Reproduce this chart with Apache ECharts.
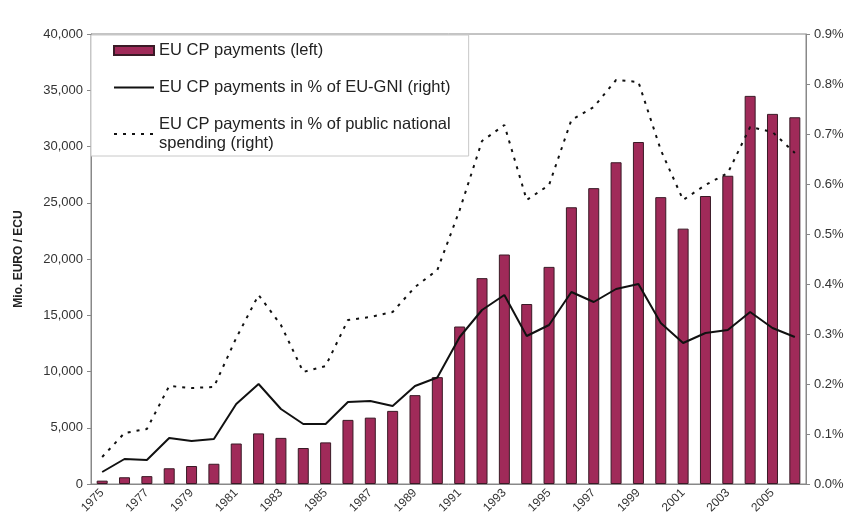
<!DOCTYPE html>
<html>
<head>
<meta charset="utf-8">
<script src="https://cdn.jsdelivr.net/npm/echarts@6/dist/echarts.min.js"></script>
<style>
  html, body { margin: 0; padding: 0; background: #fff; }
  #chart { width: 850px; height: 531px; }
</style>
</head>
<body>
<div id="chart"></div>
<script>
// years on the x axis
const years = ['1975', '1976', '1977', '1978', '1979', '1980', '1981', '1982', '1983', '1984',
  '1985', '1986', '1987', '1988', '1989', '1990', '1991', '1992', '1993', '1994', '1995',
  '1996', '1997', '1998', '1999', '2000', '2001', '2002', '2003', '2004', '2005', '2006']

// EU CP payments, Mio. EURO / ECU (left axis)
const payments = [300, 600, 700, 1400, 1600, 1800, 3600, 4500, 4100, 3200,
  3700, 5700, 5900, 6500, 7900, 9500, 14000, 18300, 20400, 16000, 19300,
  24600, 26300, 28600, 30400, 25500, 22700, 25600, 27400, 34500, 32900, 32600]

// in % of EU-GNI (right axis)
const pctGni = [0.024, 0.05, 0.048, 0.092, 0.086, 0.09, 0.16, 0.2, 0.15, 0.12,
  0.12, 0.164, 0.166, 0.156, 0.196, 0.213, 0.294, 0.348, 0.378, 0.296, 0.318,
  0.384, 0.364, 0.39, 0.4, 0.322, 0.282, 0.302, 0.308, 0.344, 0.312, 0.294]

// in % of public national spending (right axis)
const pctSpending = [0.054, 0.102, 0.11, 0.196, 0.192, 0.194, 0.292, 0.378, 0.318, 0.224,
  0.236, 0.328, 0.334, 0.344, 0.394, 0.428, 0.548, 0.686, 0.718, 0.568, 0.598,
  0.728, 0.754, 0.808, 0.804, 0.668, 0.568, 0.598, 0.622, 0.714, 0.704, 0.662]

const chart = echarts.init(document.getElementById('chart'))
const font = 'Liberation Sans, Arial, sans-serif'

const option = {
  backgroundColor: '#fff',
  animation: false,
  textStyle: { fontFamily: font },
  grid: {
    left: 91, right: 44, top: 34, bottom: 47,
    show: true, borderColor: '#888', borderWidth: 1
  },
  legend: {
    orient: 'vertical',
    left: 91, top: 35,
    padding: [6, 18, 3, 22],
    itemGap: 18,
    itemWidth: 40, itemHeight: 9,
    backgroundColor: '#fff',
    borderColor: '#c8c8c8', borderWidth: 1,
    textStyle: { fontSize: 16.5, color: '#222', fontFamily: font, lineHeight: 19 },
    data: [
      { name: 'EU CP payments (left)', icon: 'rect' },
      { name: 'EU CP payments in % of EU-GNI (right)', itemStyle: { opacity: 0 } },
      { name: 'EU CP payments in % of public national\nspending (right)', itemStyle: { opacity: 0 } }
    ]
  },
  xAxis: {
    type: 'category',
    data: years,
    axisLine: { lineStyle: { color: '#888' } },
    axisTick: { show: false },
    axisLabel: {
      interval: 1, rotate: 45, fontSize: 12, color: '#333', margin: 7
    }
  },
  yAxis: [
    {
      type: 'value',
      min: 0, max: 40000, interval: 5000,
      name: 'Mio. EURO / ECU',
      nameLocation: 'middle', nameRotate: 90, nameGap: 66,
      nameTextStyle: { fontWeight: 'bold', fontSize: 12, color: '#222' },
      axisLine: { show: true, lineStyle: { color: '#888' } },
      axisTick: { show: true, length: 4, lineStyle: { color: '#888' } },
      splitLine: { show: false },
      axisLabel: {
        fontSize: 13, color: '#333',
        formatter: v => v.toLocaleString('en-US')
      }
    },
    {
      type: 'value',
      min: 0, max: 0.9, interval: 0.1,
      axisLine: { show: true, lineStyle: { color: '#888' } },
      axisTick: { show: true, length: 4, lineStyle: { color: '#888' } },
      splitLine: { show: false },
      axisLabel: {
        fontSize: 13, color: '#333',
        formatter: v => v.toFixed(1) + '%'
      }
    }
  ],
  series: [
    {
      name: 'EU CP payments (left)',
      type: 'bar',
      data: payments,
      barWidth: 11,
      itemStyle: { color: '#a02a59', borderColor: '#3a1a26', borderWidth: 1 }
    },
    {
      name: 'EU CP payments in % of EU-GNI (right)',
      type: 'line',
      yAxisIndex: 1,
      data: pctGni,
      symbol: 'none',
      lineStyle: { color: '#111', width: 2 },
      itemStyle: { color: '#111' }
    },
    {
      name: 'EU CP payments in % of public national\nspending (right)',
      type: 'line',
      yAxisIndex: 1,
      data: pctSpending,
      symbol: 'none',
      lineStyle: { color: '#111', width: 2, type: [3, 6] },
      itemStyle: { color: '#111' }
    }
  ]
}

chart.setOption(option)
</script>
</body>
</html>
